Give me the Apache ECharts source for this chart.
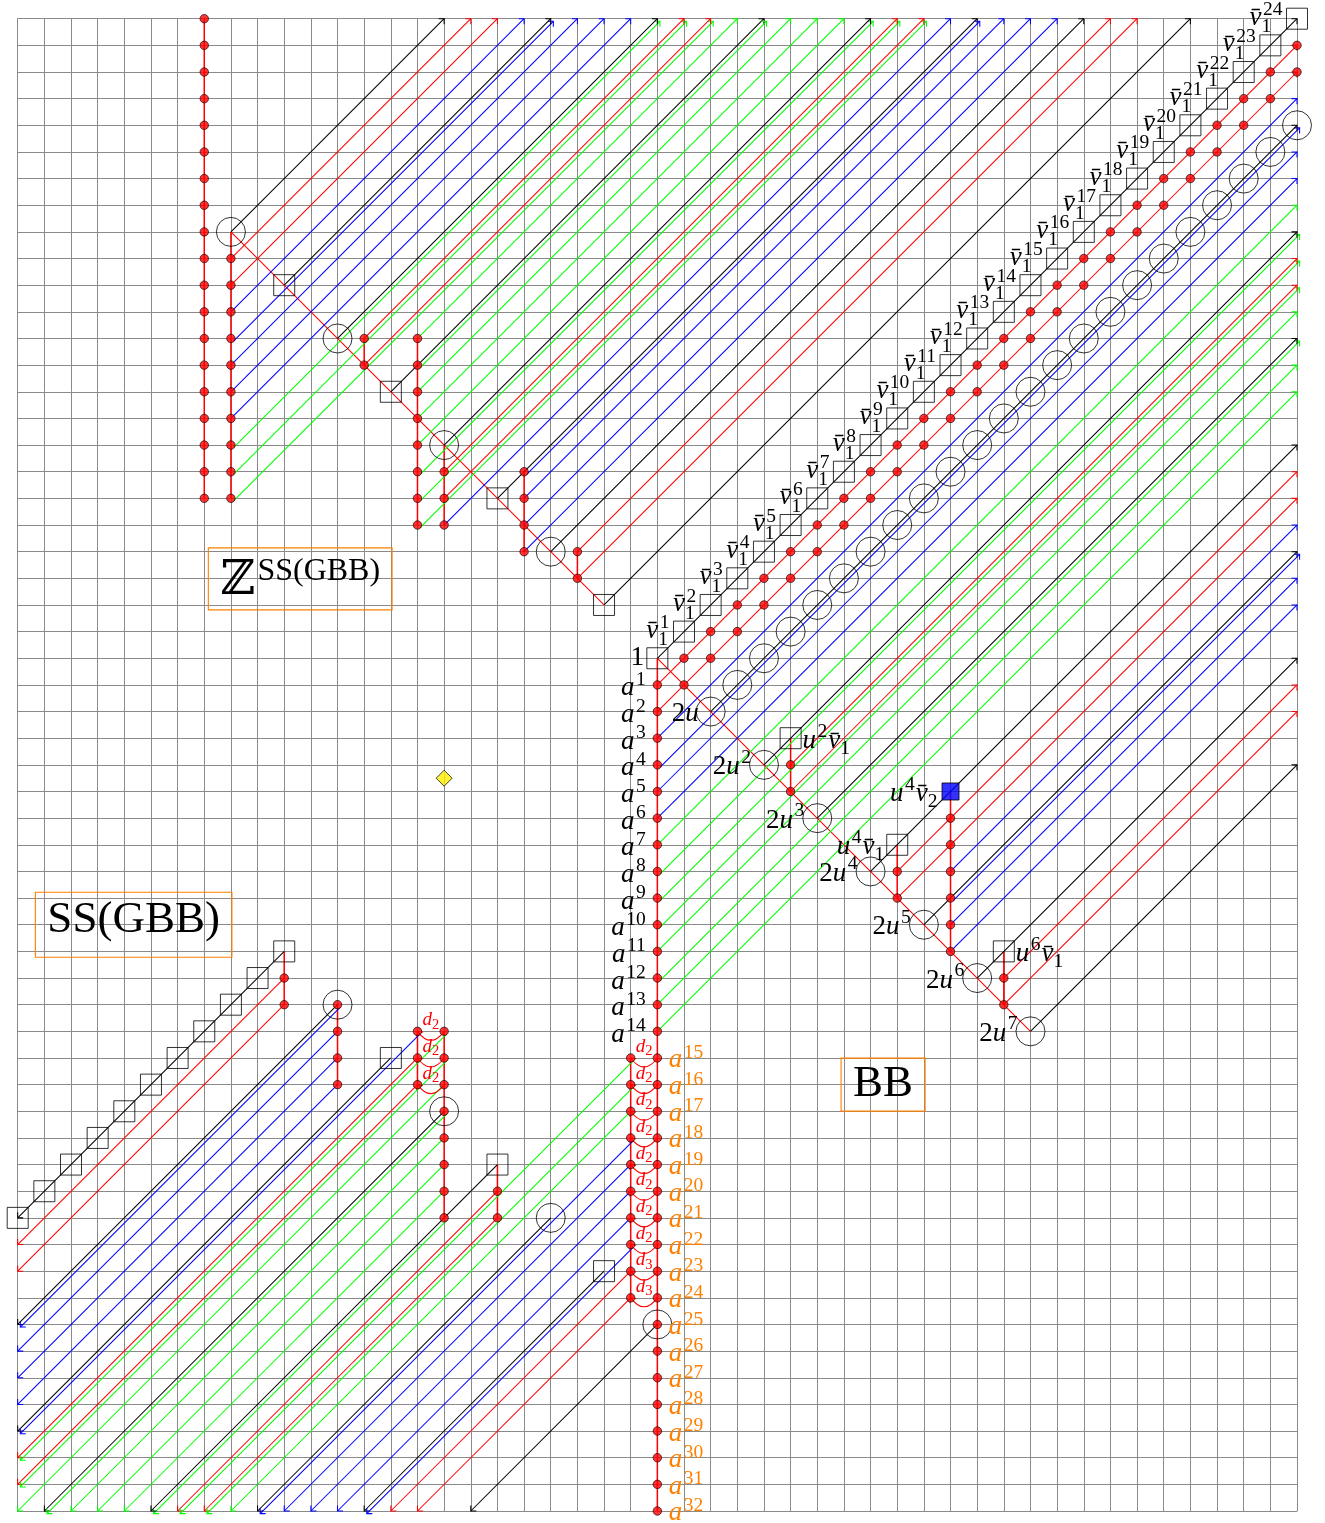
<!DOCTYPE html>
<html>
<head>
<meta charset="utf-8">
<title>SS(GBB) / BB chart</title>
<script src="https://cdn.jsdelivr.net/npm/echarts@6.0.0/dist/echarts.min.js"></script>
<style>
html,body{margin:0;padding:0;background:#ffffff;}
#chart{width:1325px;height:1523px;}
</style>
</head>
<body>
<div id="chart"></div>
<script>
// ================= DATA =================
const X_EXTENT = [0, 48];
const Y_EXTENT = [0, 56];

// red dot classes listed by column: [x, [y, ...]]
const dotColumns = [
  [7,  [38,39,40,41,42,43,44,45,46,47,48,49,50,51,52,53,54,55,56]],
  [8,  [38,39,40,41,42,43,44,45,46,47]],
  [13, [43,44]],
  [15, [37,38,39,40,41,42,43,44]],
  [16, [37,38,39]],
  [19, [36,37,38,39]],
  [21, [35,36]],
  [24, [0,1,2,3,4,5,6,7,8,9,10,11,12,13,14,15,16,17,18,19,20,21,22,23,24,25,26,27,28,29,30,31]],
  [29, [27,28]],
  [33, [23,24]],
  [35, [21,22,23,24,25,26]],
  [37, [19,20]],
  [10, [19,20]],
  [12, [16,17,18,19]],
  [15, [16,17,18]],
  [16, [11,12,13,14,15,16,17,18]],
  [18, [11,12]],
  [23, [8,9,10,11,12,13,14,15,16,17]]
];
// red dots along the two red towers beside the v̄1 chain
const dotDiagonal = [
  [25,31],[26,32],[27,33],[28,34],[29,35],[30,36],[31,37],[32,38],[33,39],[34,40],[35,41],[36,42],
  [37,43],[38,44],[39,45],[40,46],[41,47],[42,48],[43,49],[44,50],[45,51],[46,52],[47,53],[48,54],
  [25,32],[26,33],[27,34],[28,35],[29,36],[30,37],[31,38],[32,39],[33,40],[34,41],[35,42],[36,43],
  [37,44],[38,45],[39,46],[40,47],[41,48],[42,49],[43,50],[44,51],[45,52],[46,53],[47,54],[48,55]
];
const circleClasses = [
  [8,48],[12,44],[16,40],[20,36],
  [26,30],[27,31],[28,32],[29,33],[30,34],[31,35],[32,36],[33,37],[34,38],[35,39],[36,40],[37,41],
  [38,42],[39,43],[40,44],[41,45],[42,46],[43,47],[44,48],[45,49],[46,50],[47,51],[48,52],
  [28,28],[30,26],[32,24],[34,22],[36,20],[38,18],
  [12,19],[16,15],[20,11],[24,7]
];
const squareClasses = [
  [10,46],[14,42],[18,38],[22,34],
  [24,32],[25,33],[26,34],[27,35],[28,36],[29,37],[30,38],[31,39],[32,40],[33,41],[34,42],[35,43],
  [36,44],[37,45],[38,46],[39,47],[40,48],[41,49],[42,50],[43,51],[44,52],[45,53],[46,54],[47,55],[48,56],
  [29,29],[33,25],[37,21],
  [0,11],[1,12],[2,13],[3,14],[4,15],[5,16],[6,17],[7,18],[8,19],[9,20],[10,21],
  [14,17],[18,13],[22,9]
];
const filledSquareClasses = [[35,27]];
const diamondClasses = [[16,27.5]];

// red structure segments: [x1, y1, x2, y2]
const redSegments = [
  [7,38,7,56],[8,38,8,48],[13,43,13,44],[15,37,15,44],[16,37,16,40],[19,36,19,39],[21,35,21,36],[8,48,22,34],
  [24,0,24,32],[29,27,29,29],[33,23,33,25],[35,21,35,27],[37,19,37,21],[24,32,38,18],
  [10,19,10,21],[12,16,12,19],[15,16,15,18],[16,11,16,18],[18,11,18,13],[23,8,23,17]
];

// towers running up-right to the edge: [x, y, kind]
const towersUp = [
  [8,48,'black'],[8,47,'red'],[8,46,'red'],[8,45,'blue'],[8,44,'blue'],[8,43,'blue'],[8,42,'blue'],[8,41,'blue'],
  [8,40,'green'],[8,39,'green'],[8,38,'green'],
  [10,46,'black'],[12,44,'black'],[13,44,'red'],[13,43,'red'],[14,42,'black'],
  [15,44,'green'],[15,43,'green'],[15,42,'green'],[15,41,'green'],[15,40,'green'],[15,39,'green'],[15,38,'green'],[15,37,'green'],
  [16,40,'black'],[16,39,'red'],[16,38,'red'],[16,37,'blue'],
  [18,38,'black'],[19,39,'blue'],[19,38,'blue'],[19,37,'blue'],[19,36,'blue'],
  [20,36,'black'],[21,36,'red'],[21,35,'red'],[22,34,'black'],
  [24,32,'black'],[24,31,'red'],[24,30,'red'],[24,29,'blue'],[24,28,'blue'],[24,27,'blue'],[24,26,'blue'],
  [24,25,'green'],[24,24,'green'],[24,23,'green'],[24,22,'green'],[24,21,'green'],[24,20,'green'],[24,19,'green'],[24,18,'green'],
  [26,30,'black'],[28,28,'black'],[29,28,'red'],[29,27,'red'],[30,26,'black'],
  [32,24,'black'],[33,24,'red'],[33,23,'red'],[34,22,'black'],
  [35,24,'blue'],[35,23,'blue'],[35,22,'blue'],[35,21,'blue'],
  [36,20,'black'],[37,20,'red'],[37,19,'red'],[38,18,'black']
];
// towers running down-left to the edge: [x, y, kind]
const towersDown = [
  [10,21,'black'],[10,20,'red'],[10,19,'red'],
  [12,19,'black'],[12,19,'blue'],[12,18,'blue'],[12,17,'blue'],[12,16,'blue'],
  [14,17,'black'],[15,18,'blue'],[15,17,'red'],[15,16,'red'],
  [16,15,'black'],[16,18,'green'],[16,17,'green'],[16,16,'green'],[16,15,'green'],[16,14,'green'],[16,13,'green'],[16,12,'green'],[16,11,'green'],
  [18,13,'black'],[18,12,'red'],[18,11,'red'],
  [20,11,'black'],[22,9,'black'],
  [23,17,'green'],[23,16,'green'],[23,15,'green'],[23,14,'blue'],[23,13,'blue'],[23,12,'blue'],[23,11,'blue'],[23,10,'blue'],
  [23,9,'red'],[23,8,'red'],
  [24,7,'black']
];

// differentials: [fromX, fromY, toX, toY, page]
const differentials = [
  [16,18,15,18,2],[16,17,15,17,2],[16,16,15,16,2],
  [24,17,23,17,2],[24,16,23,16,2],[24,15,23,15,2],[24,14,23,14,2],[24,13,23,13,2],[24,12,23,12,2],[24,11,23,11,2],[24,10,23,10,2],
  [24,9,23,9,3],[24,8,23,8,3]
];

// class names: [x, y, name, group]
const classNames = [
  [24,32,'1','unit'],
  [25,33,'v\u0304_{1}^{1}','vbar'],[26,34,'v\u0304_{1}^{2}','vbar'],[27,35,'v\u0304_{1}^{3}','vbar'],[28,36,'v\u0304_{1}^{4}','vbar'],
  [29,37,'v\u0304_{1}^{5}','vbar'],[30,38,'v\u0304_{1}^{6}','vbar'],[31,39,'v\u0304_{1}^{7}','vbar'],[32,40,'v\u0304_{1}^{8}','vbar'],
  [33,41,'v\u0304_{1}^{9}','vbar'],[34,42,'v\u0304_{1}^{10}','vbar'],[35,43,'v\u0304_{1}^{11}','vbar'],[36,44,'v\u0304_{1}^{12}','vbar'],
  [37,45,'v\u0304_{1}^{13}','vbar'],[38,46,'v\u0304_{1}^{14}','vbar'],[39,47,'v\u0304_{1}^{15}','vbar'],[40,48,'v\u0304_{1}^{16}','vbar'],
  [41,49,'v\u0304_{1}^{17}','vbar'],[42,50,'v\u0304_{1}^{18}','vbar'],[43,51,'v\u0304_{1}^{19}','vbar'],[44,52,'v\u0304_{1}^{20}','vbar'],
  [45,53,'v\u0304_{1}^{21}','vbar'],[46,54,'v\u0304_{1}^{22}','vbar'],[47,55,'v\u0304_{1}^{23}','vbar'],[48,56,'v\u0304_{1}^{24}','vbar'],
  [24,31,'a^{1}','aLeft'],[24,30,'a^{2}','aLeft'],[24,29,'a^{3}','aLeft'],[24,28,'a^{4}','aLeft'],[24,27,'a^{5}','aLeft'],
  [24,26,'a^{6}','aLeft'],[24,25,'a^{7}','aLeft'],[24,24,'a^{8}','aLeft'],[24,23,'a^{9}','aLeft'],[24,22,'a^{10}','aLeft'],
  [24,21,'a^{11}','aLeft'],[24,20,'a^{12}','aLeft'],[24,19,'a^{13}','aLeft'],[24,18,'a^{14}','aLeft'],
  [24,17,'a^{15}','aRight'],[24,16,'a^{16}','aRight'],[24,15,'a^{17}','aRight'],[24,14,'a^{18}','aRight'],[24,13,'a^{19}','aRight'],
  [24,12,'a^{20}','aRight'],[24,11,'a^{21}','aRight'],[24,10,'a^{22}','aRight'],[24,9,'a^{23}','aRight'],[24,8,'a^{24}','aRight'],
  [24,7,'a^{25}','aRight'],[24,6,'a^{26}','aRight'],[24,5,'a^{27}','aRight'],[24,4,'a^{28}','aRight'],[24,3,'a^{29}','aRight'],
  [24,2,'a^{30}','aRight'],[24,1,'a^{31}','aRight'],[24,0,'a^{32}','aRight'],
  [26,30,'2u','uLeft'],[28,28,'2u^{2}','uLeft'],[30,26,'2u^{3}','uLeft'],[32,24,'2u^{4}','uLeft'],
  [34,22,'2u^{5}','uLeft'],[36,20,'2u^{6}','uLeft'],[38,18,'2u^{7}','uLeft'],
  [29,29,'u^{2}v\u0304_{1}','uRight'],[33,25,'u^{4}v\u0304_{1}','uLeft'],[35,27,'u^{4}v\u0304_{2}','uLeft'],[37,21,'u^{6}v\u0304_{1}','uRight']
];

// framed titles: [centerX, centerY, text, superscript]
const titles = [
  [10.6, 34.98, '\u2124', 'SS(GBB)'],
  [4.35, 22.0, 'SS(GBB)', ''],
  [32.47, 16.0, 'BB', '']
];

// ================= STYLE =================
const PALETTE = {black:'#000000', red:'#ff0000', blue:'#0000ff', green:'#00ff00'};
const ORANGE = '#ff8000';
const GRID_COLOR = '#8a8a8a';
const SERIF = '"Liberation Serif","DejaVu Serif",serif';
const DS_FONT = '"DejaVu Serif","DejaVu Sans",serif';
const LINE_W = 1.05;
const SEG_W = 1.5;
const SHIFT = 2.6;
const HEAD = 5.5;
const MID = 0.3375; // canvas middle-baseline to alphabetic-baseline ratio

const LAYOUT = {
  unit:  {side:'L', gap:13,   base:9,    size:27.5, script:19.5, raise:11, drop:6, color:'#000'},
  vbar:  {side:'L', gap:13.5, base:8,    size:27,   script:19.5, raise:10, drop:7, color:'#000'},
  aLeft: {side:'L', gap:10.5, base:12.5, size:27,   script:19.5, raise:11, drop:6, color:'#000'},
  aRight:{side:'R', gap:11.5, base:11.5, size:27,   script:19.5, raise:10, drop:6, color:ORANGE},
  uLeft: {side:'L', gap:12,   base:11.5, size:27,   script:19.5, raise:12, drop:5, color:'#000'},
  uRight:{side:'R', gap:12,   base:12,   size:27,   script:19.5, raise:12, drop:5, color:'#000'}
};

// ================= HELPERS =================
const mctx = document.createElement('canvas').getContext('2d');
function tw(t, font){ mctx.font = font; return mctx.measureText(t).width; }
function fnt(size, italic, fam){ return (italic ? 'italic ' : '') + size + 'px ' + (fam || SERIF); }
function isLetter(s){ return /[A-Za-z]/.test(s.charAt(0)); }

function parseTex(tex){
  const out = []; let i = 0;
  const arg = () => {
    if (tex[i] === '{'){ const j = tex.indexOf('}', i); const s = tex.slice(i+1, j); i = j+1; return s; }
    return tex[i++];
  };
  while (i < tex.length){
    const c = tex[i];
    if (c === '^'){ i++; out[out.length-1].sup = arg(); }
    else if (c === '_'){ i++; out[out.length-1].sub = arg(); }
    else {
      let ch = c; i++;
      while (i < tex.length && /[\u0300-\u036f]/.test(tex[i])){ ch += tex[i]; i++; }
      out.push({ch:ch});
    }
  }
  return out;
}
function layoutTex(tex, L){
  const items = []; let x = 0;
  parseTex(tex).forEach(g => {
    const it = isLetter(g.ch);
    const f = fnt(L.size, it);
    items.push({text:g.ch, font:f, size:L.size, dx:x, dy:0});
    x += tw(g.ch, f);
    if (g.sup != null || g.sub != null){
      let adv = 0;
      const corr = it ? 1.5 : 0.5;
      if (g.sup != null){
        const f2 = fnt(L.script, isLetter(g.sup));
        items.push({text:g.sup, font:f2, size:L.script, dx:x+corr, dy:-L.raise});
        adv = Math.max(adv, tw(g.sup, f2) + corr);
      }
      if (g.sub != null){
        const f3 = fnt(L.script, isLetter(g.sub));
        items.push({text:g.sub, font:f3, size:L.script, dx:x, dy:L.drop});
        adv = Math.max(adv, tw(g.sub, f3));
      }
      x += adv + 1;
    }
  });
  return {items:items, width:x};
}
function textEl(text, font, size, x, baseline, color){
  return {type:'text', x:x, y:baseline - MID*size, silent:true,
    style:{text:text, font:font, fill:color, align:'left', verticalAlign:'middle', textAlign:'left', textVerticalAlign:'middle'}};
}
function arrowHead(tip, ux, uy, color, lw){
  const c = Math.cos(Math.PI/4), s = Math.sin(Math.PI/4);
  const bx = -ux, by = -uy;
  const l = [bx*c - by*s, bx*s + by*c];
  const r = [bx*c + by*s, -bx*s + by*c];
  return {type:'polyline', silent:true,
    shape:{points:[[tip[0]+l[0]*HEAD, tip[1]+l[1]*HEAD], [tip[0], tip[1]], [tip[0]+r[0]*HEAD, tip[1]+r[1]*HEAD]]},
    style:{stroke:color, lineWidth:lw, fill:null}};
}

// lines that share a diagonal with a black/red tower are drawn beside it
const primary = new Set();
[[towersUp,1],[towersDown,-1]].forEach(([list,dir]) => list.forEach(t => {
  if (t[2] === 'black' || t[2] === 'red') primary.add(dir + ':' + (t[1]-t[0]));
}));
function shifted(t, dir){
  return (t[2] === 'blue' || t[2] === 'green') && primary.has(dir + ':' + (t[1]-t[0]));
}

function towerRenderer(list, dir){
  return function(params, api){
    const t = list[api.value(2)];
    const x = t[0], y = t[1];
    const n = dir > 0 ? Math.min(X_EXTENT[1]-x, Y_EXTENT[1]-y) : Math.min(x-X_EXTENT[0], y-Y_EXTENT[0]);
    const p1 = api.coord([x, y]);
    const p2 = api.coord([x + dir*n, y + dir*n]);
    const o = shifted(t, dir) ? SHIFT : 0;
    const a = [p1[0]+o, p1[1]+o], b = [p2[0]+o, p2[1]+o];
    const len = Math.hypot(b[0]-a[0], b[1]-a[1]);
    const ux = (b[0]-a[0])/len, uy = (b[1]-a[1])/len;
    const col = PALETTE[t[2]];
    return {type:'group', children:[
      {type:'line', silent:true, shape:{x1:a[0], y1:a[1], x2:b[0], y2:b[1]}, style:{stroke:col, lineWidth:LINE_W}},
      arrowHead(b, ux, uy, col, LINE_W)
    ]};
  };
}

function segmentRenderer(params, api){
  const s = redSegments[api.value(2)];
  const p1 = api.coord([s[0], s[1]]), p2 = api.coord([s[2], s[3]]);
  const vertical = s[0] === s[2];
  return {type:'line', silent:true, shape:{x1:p1[0], y1:p1[1], x2:p2[0], y2:p2[1]},
    style:{stroke:PALETTE.red, lineWidth: vertical ? SEG_W : LINE_W}};
}

function diffRenderer(params, api){
  const d = differentials[api.value(2)];
  const p1 = api.coord([d[0], d[1]]), p2 = api.coord([d[2], d[3]]);
  const mx = (p1[0]+p2[0])/2, my = (p1[1]+p2[1])/2;
  const cp = [mx, my + 18];
  const dx = p2[0]-cp[0], dy = p2[1]-cp[1], L = Math.hypot(dx, dy);
  const f1 = fnt(19, true), f2 = fnt(14.5, false);
  const w1 = tw('d', f1), w2 = tw(String(d[4]), f2);
  const x0 = mx - (w1 + w2)/2;
  return {type:'group', children:[
    {type:'bezierCurve', silent:true, shape:{x1:p1[0], y1:p1[1], x2:p2[0], y2:p2[1], cpx1:cp[0], cpy1:cp[1]},
      style:{stroke:PALETTE.red, lineWidth:LINE_W, fill:null}},
    arrowHead(p2, dx/L, dy/L, PALETTE.red, LINE_W),
    textEl('d', f1, 19, x0, my - 4.6, PALETTE.red),
    textEl(String(d[4]), f2, 14.5, x0 + w1, my - 1.5, PALETTE.red)
  ]};
}

function nameRenderer(params, api){
  const n = classNames[api.value(2)];
  const L = LAYOUT[n[3]];
  const p = api.coord([n[0], n[1]]);
  const lay = layoutTex(n[2], L);
  const x0 = L.side === 'L' ? p[0] - L.gap - lay.width : p[0] + L.gap;
  const yb = p[1] + L.base;
  return {type:'group', children: lay.items.map(it => textEl(it.text, it.font, it.size, x0 + it.dx, yb + it.dy, L.color))};
}

function titleRenderer(params, api){
  const t = titles[api.value(2)];
  const c = api.coord([t[0], t[1]]);
  const mainSize = t[3] ? 48 : 45;
  const mainFont = t[3] ? fnt(mainSize, false, DS_FONT) : fnt(mainSize, false);
  const supFont = fnt(32, false);
  mctx.font = mainFont;
  const mm = mctx.measureText(t[2]);
  let w = mm.width, asc = mm.actualBoundingBoxAscent, desc = mm.actualBoundingBoxDescent;
  const raise = 15;
  let supW = 0;
  if (t[3]){
    mctx.font = supFont;
    const sm = mctx.measureText(t[3]);
    supW = sm.width + 2;
    asc = Math.max(asc, sm.actualBoundingBoxAscent + raise);
    desc = Math.max(desc, sm.actualBoundingBoxDescent - raise);
  }
  const pad = 12;
  const W = w + supW + 2*pad, H = asc + desc + 2*pad;
  const left = c[0] - W/2, top = c[1] - H/2;
  const baseline = top + pad + asc;
  const kids = [
    {type:'rect', silent:true, shape:{x:left, y:top, width:W, height:H}, style:{stroke:ORANGE, fill:null, lineWidth:1.1}},
    textEl(t[2], mainFont, mainSize, left + pad, baseline, '#000')
  ];
  if (t[3]) kids.push(textEl(t[3], supFont, 32, left + pad + w + 2, baseline - raise, '#000'));
  return {type:'group', children:kids};
}

function idx(list){ return list.map((r, i) => [r[0], r[1], i]); }

// ================= CHART =================
const dots = [];
dotColumns.forEach(col => col[1].forEach(y => dots.push([col[0], y])));
dotDiagonal.forEach(p => dots.push(p));

const axisCommon = {
  type:'value', interval:1,
  axisLabel:{show:false}, axisTick:{show:false},
  axisLine:{show:true, onZero:false, lineStyle:{color:GRID_COLOR, width:1}},
  splitLine:{show:true, lineStyle:{color:GRID_COLOR, width:1}}
};

const chart = echarts.init(document.getElementById('chart'), null, {renderer:'canvas', width:1325, height:1523});
chart.setOption({
  animation:false,
  backgroundColor:'#ffffff',
  grid:{left:17.7, top:18.7, width:1279.3, height:1492.3, containLabel:false},
  xAxis:Object.assign({}, axisCommon, {min:X_EXTENT[0], max:X_EXTENT[1]}),
  yAxis:Object.assign({}, axisCommon, {min:Y_EXTENT[0], max:Y_EXTENT[1]}),
  series:[
    {type:'custom', name:'segments', coordinateSystem:'cartesian2d', clip:false, silent:true, z:2,
      data: redSegments.map((s, i) => [s[0], s[1], i]), renderItem: segmentRenderer},
    {type:'custom', name:'towersUp', coordinateSystem:'cartesian2d', clip:false, silent:true, z:2,
      data: idx(towersUp), renderItem: towerRenderer(towersUp, 1)},
    {type:'custom', name:'towersDown', coordinateSystem:'cartesian2d', clip:false, silent:true, z:2,
      data: idx(towersDown), renderItem: towerRenderer(towersDown, -1)},
    {type:'custom', name:'differentials', coordinateSystem:'cartesian2d', clip:false, silent:true, z:3,
      data: differentials.map((d, i) => [d[0], d[1], i]), renderItem: diffRenderer},
    {type:'scatter', name:'circles', data:circleClasses, symbol:'circle', symbolSize:29, silent:true, z:4,
      itemStyle:{color:'rgba(0,0,0,0)', borderColor:'#000', borderWidth:1}},
    {type:'scatter', name:'squares', data:squareClasses, symbol:'rect', symbolSize:21, silent:true, z:4,
      itemStyle:{color:'rgba(0,0,0,0)', borderColor:'#000', borderWidth:1}},
    {type:'scatter', name:'filledSquares', data:filledSquareClasses, symbol:'rect', symbolSize:17, silent:true, z:4,
      itemStyle:{color:'#0000ff', borderColor:'#000', borderWidth:1}},
    {type:'scatter', name:'dots', data:dots, symbol:'circle', symbolSize:8.5, silent:true, z:5,
      itemStyle:{color:'#ff0000', borderColor:'#000', borderWidth:0.8}},
    {type:'scatter', name:'diamond', data:diamondClasses, symbol:'diamond', symbolSize:16, silent:true, z:5,
      itemStyle:{color:'#ffee00', borderColor:'#000', borderWidth:0.9}},
    {type:'custom', name:'names', coordinateSystem:'cartesian2d', clip:false, silent:true, z:6,
      data: idx(classNames), renderItem: nameRenderer},
    {type:'custom', name:'titles', coordinateSystem:'cartesian2d', clip:false, silent:true, z:6,
      data: idx(titles), renderItem: titleRenderer}
  ]
});
</script>
</body>
</html>
